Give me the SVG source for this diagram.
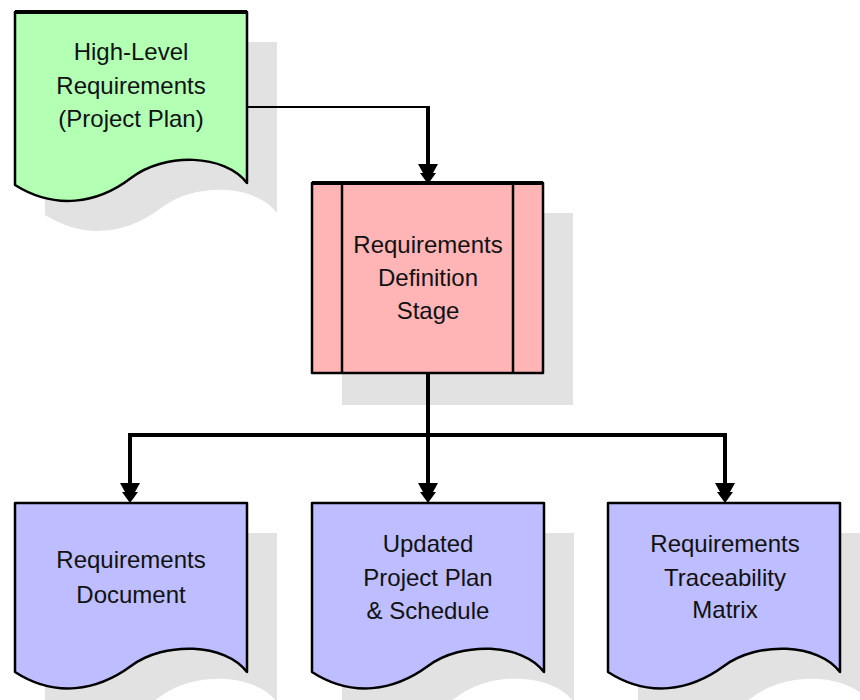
<svg xmlns="http://www.w3.org/2000/svg" xmlns:xlink="http://www.w3.org/1999/xlink" width="860" height="700" viewBox="0 0 860 700">
<style>
.shadow{fill:#e2e2e2;stroke:none}
.outline{stroke:#000;stroke-width:2.5;stroke-linejoin:round}
.top{stroke:#000;stroke-width:4}
.green{fill:#b3ffb3}
.red{fill:#ffb5b5}
.blue{fill:#bdbdff}
.label{font-family:"Liberation Sans",Arial,sans-serif;font-size:24px;fill:#111;text-anchor:middle}
.conn{fill:none;stroke:#000;stroke-width:4}
.thin{fill:none;stroke:#000;stroke-width:2}
.head{fill:#000}
</style>
<defs>
<path id="doc" d="M0,0 H232 V169 C210,140 150,138 116,163 C82,188 40,195 0,169 Z"/>
<path id="docg" d="M0,0 H232 V171 C210,142 150,140 116,166 C82,192 40,198 0,173 Z"/>
<path id="arrow" d="M-10,-20 L10,-20 L5,-11 L8,-11 L0,0 L-8,-11 L-5,-11 Z"/>
</defs>

<g id="high-level-requirements">
<use xlink:href="#docg" class="shadow" transform="translate(45,42)"/>
<use xlink:href="#docg" class="green outline" transform="translate(15,12)"/>
<line class="top" x1="15" y1="12" x2="247" y2="12"/>
<text class="label" x="131" y="60">High-Level</text>
<text class="label" x="131" y="94">Requirements</text>
<text class="label" x="131" y="127">(Project Plan)</text>
</g>

<g id="requirements-definition-stage">
<rect class="shadow" x="342" y="213" width="231" height="192"/>
<rect class="red outline" x="312" y="183" width="231" height="190"/>
<line class="top" x1="312" y1="183" x2="543" y2="183"/>
<line class="outline" x1="342" y1="183" x2="342" y2="373"/>
<line class="outline" x1="513" y1="183" x2="513" y2="373"/>
<text class="label" x="428" y="253">Requirements</text>
<text class="label" x="428" y="286">Definition</text>
<text class="label" x="428" y="319">Stage</text>
</g>

<g id="requirements-document">
<use xlink:href="#doc" class="shadow" transform="translate(45,533)"/>
<use xlink:href="#doc" class="blue outline" transform="translate(15,503)"/>
<text class="label" x="131" y="568">Requirements</text>
<text class="label" x="131" y="603">Document</text>
</g>

<g id="updated-project-plan">
<use xlink:href="#doc" class="shadow" transform="translate(342,533)"/>
<use xlink:href="#doc" class="blue outline" transform="translate(312,503)"/>
<text class="label" x="428" y="552">Updated</text>
<text class="label" x="428" y="586">Project Plan</text>
<text class="label" x="428" y="619">&amp; Schedule</text>
</g>

<g id="requirements-traceability-matrix">
<use xlink:href="#doc" class="shadow" transform="translate(638,533)"/>
<use xlink:href="#doc" class="blue outline" transform="translate(608,503)"/>
<text class="label" x="725" y="552">Requirements</text>
<text class="label" x="725" y="586">Traceability</text>
<text class="label" x="725" y="618">Matrix</text>
</g>

<g id="connectors">
<path class="thin" d="M247,107 H428"/>
<path class="conn" d="M428,106 V168"/>
<use xlink:href="#arrow" class="head" transform="translate(428,184)"/>
<path class="conn" d="M428,374 V435 M130,435 H725 M130,433 V488 M428,435 V488 M725,433 V488"/>
<use xlink:href="#arrow" class="head" transform="translate(130,503)"/>
<use xlink:href="#arrow" class="head" transform="translate(428,503)"/>
<use xlink:href="#arrow" class="head" transform="translate(725,503)"/>
</g>
</svg>
